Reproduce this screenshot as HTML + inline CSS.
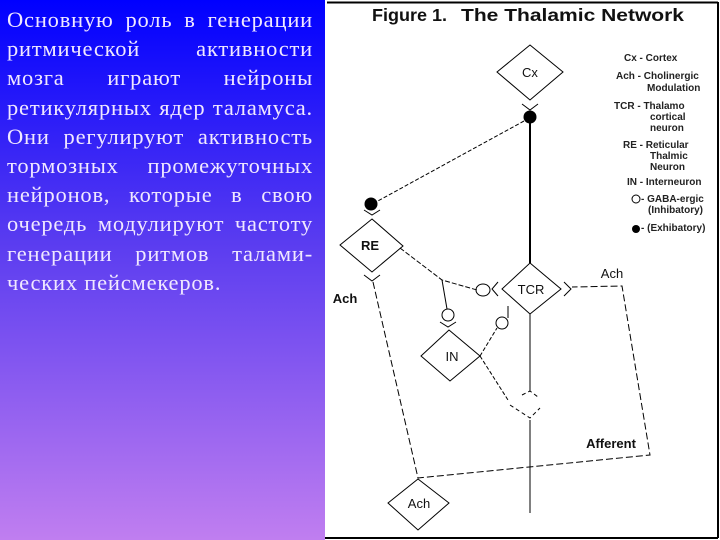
<!DOCTYPE html>
<html><head><meta charset="utf-8"><style>
html,body{margin:0;padding:0;}
body{width:720px;height:540px;position:relative;overflow:hidden;background:#fff;}
#left{position:absolute;left:0;top:0;width:325px;height:540px;background:linear-gradient(#0000ff 0%,#5a3cf0 45%,#c07ef0 100%);}
#txt{position:absolute;left:7px;top:5px;width:306px;font-family:"Liberation Serif",serif;font-size:22.5px;letter-spacing:0.8px;line-height:29.2px;color:#f0e8ff;text-align:justify;}
#txt span{display:block;text-align:justify;text-align-last:justify;white-space:nowrap;}
#txt span.l{text-align-last:left;}
svg{position:absolute;left:0;top:0;}
</style></head><body>
<div id="left"><div id="txt">
<span>Основную роль в генерации</span>
<span>ритмической активности</span>
<span>мозга играют нейроны</span>
<span>ретикулярных ядер таламуса.</span>
<span>Они регулируют активность</span>
<span>тормозных промежуточных</span>
<span>нейронов, которые в свою</span>
<span>очередь модулируют частоту</span>
<span>генерации ритмов талами-</span>
<span class="l">ческих пейсмекеров.</span>
</div></div>
<svg width="720" height="540" font-family="Liberation Sans, sans-serif">
<g stroke="#000" fill="none" stroke-width="1">
<line x1="327" y1="2.5" x2="718" y2="2.5" stroke-width="2"/>
<line x1="718" y1="2" x2="718" y2="538" stroke-width="2"/>
<line x1="325" y1="538" x2="718" y2="538" stroke-width="2"/>
<polygon points="530,45 563,72 530,100 497,72"/>
<polygon points="372,219 403,246 372,272 340,245"/>
<polygon points="530,263 561,289 530,314 502,289"/>
<polygon points="449,330 480,356 450,381 421,356"/>
<polygon points="418,479 449,503 418,530 388,503"/>
<polyline points="522,395 530,391 538,397" stroke-dasharray="4,3"/>
<polyline points="510,405 530,418 540,408" stroke-dasharray="4,3"/>
<polyline points="522,104 530,110 538,104"/>
<polyline points="364,210 372,215 380,210"/>
<polyline points="364,275 372,281 380,275"/>
<polyline points="498,282 492,289 498,296"/>
<polyline points="564,282 571,289 564,296"/>
<polyline points="440,322 448,327 456,322"/>
<line x1="530" y1="117" x2="530" y2="263" stroke-width="2"/>
<line x1="524" y1="121" x2="376" y2="202" stroke-dasharray="4,2"/>
<line x1="530" y1="314" x2="530" y2="391"/>
<line x1="530" y1="420" x2="530" y2="513"/>
<polyline points="400,248 442,280 477,290" stroke-dasharray="5,2"/>
<line x1="442" y1="280" x2="447" y2="309"/>
<line x1="480" y1="356" x2="497" y2="328" stroke-dasharray="4,2"/>
<line x1="508" y1="318" x2="508" y2="306"/>
<line x1="480" y1="356" x2="508" y2="400" stroke-dasharray="4,2"/>
<polyline points="373,282 418,478 650,455 622,286 572,287" stroke-dasharray="7,3"/>
<ellipse cx="483" cy="290" rx="7" ry="6"/>
<ellipse cx="448" cy="315" rx="6" ry="6"/>
<ellipse cx="502" cy="323" rx="6" ry="6"/>
</g>
<circle cx="530" cy="117" r="6.5" fill="#000"/>
<circle cx="371" cy="204" r="6.5" fill="#000"/>
<circle cx="636" cy="229" r="4" fill="#000"/>
<circle cx="636" cy="199" r="4" fill="none" stroke="#000"/>
<g font-weight="bold" fill="#111">
<text x="372" y="21" font-size="17.5" textLength="75" lengthAdjust="spacingAndGlyphs">Figure 1.</text>
<text x="461" y="21" font-size="17.5" textLength="223" lengthAdjust="spacingAndGlyphs">The Thalamic Network</text>
</g>
<g font-size="13" fill="#111" text-anchor="middle">
<text x="530" y="77">Cx</text>
<text x="370" y="250" font-weight="bold">RE</text>
<text x="531" y="294">TCR</text>
<text x="452" y="361">IN</text>
<text x="419" y="508">Ach</text>
<text x="612" y="278">Ach</text>
<text x="345" y="303" font-weight="bold">Ach</text>
<text x="611" y="448" font-weight="bold">Afferent</text>
</g>
<g font-size="10" font-weight="bold" fill="#222">
<text x="624" y="61">Cx - Cortex</text>
<text x="616" y="79">Ach - Cholinergic</text>
<text x="647" y="91">Modulation</text>
<text x="614" y="109">TCR - Thalamo</text>
<text x="650" y="120">cortical</text>
<text x="650" y="131">neuron</text>
<text x="623" y="148">RE - Reticular</text>
<text x="650" y="159">Thalmic</text>
<text x="650" y="170">Neuron</text>
<text x="627" y="185">IN - Interneuron</text>
<text x="641" y="202">- GABA-ergic</text>
<text x="648" y="213">(Inhibatory)</text>
<text x="641" y="231">- (Exhibatory)</text>
</g>
</svg>
</body></html>
